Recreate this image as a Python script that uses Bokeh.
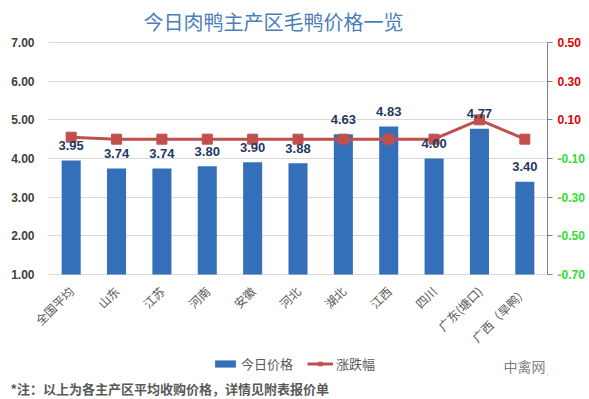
from bokeh.plotting import figure
from bokeh.layouts import column, row
from bokeh.models import (FactorRange, Range1d, LinearAxis, FixedTicker, Legend, LegendItem, Label,
                          ColumnDataSource, CustomJSTickFormatter, LabelSet, Title)
from bokeh.core.properties import value
from bokeh.embed import file_html
from bokeh.resources import INLINE
import math

categories = ["全国平均", "山东", "江苏", "河南", "安徽", "河北", "湖北", "江西", "四川", "广东(塘口)", "广西（旱鸭）"]
prices = [3.95, 3.74, 3.74, 3.80, 3.90, 3.88, 4.63, 4.83, 4.00, 4.77, 3.40]
changes = [0.01, 0.0, 0.0, 0.0, 0.0, 0.0, 0.0, 0.0, 0.0, 0.10, 0.0]
left_ticks = [1, 2, 3, 4, 5, 6, 7]
right_ticks = [-0.7, -0.5, -0.3, -0.1, 0.1, 0.3, 0.5]
title_text = "今日肉鸭主产区毛鸭价格一览"
note_text = "*注：以上为各主产区平均收购价格，详情见附表报价单"
brand_text = "中禽网"

CJK = "Noto Sans CJK SC"
NUM = "Liberation Sans"
BAR = "#3470ba"
LINE = "#c0504d"

# 7px of breathing room above/below the tick span so the end labels are not clipped
PAD_PX = 7
FRAME_PX = 233
lpad = (left_ticks[-1] - left_ticks[0]) / FRAME_PX * PAD_PX
rpad = (right_ticks[-1] - right_ticks[0]) / FRAME_PX * PAD_PX
chg_range = Range1d(right_ticks[0] - rpad, right_ticks[-1] + rpad)

src = ColumnDataSource(dict(cat=categories, price=prices, change=changes,
                            plabel=[f"{v:.2f}" for v in prices]))

TOP, BOTTOM, H = 35, 72, 354

p = figure(width=553, height=H, x_range=FactorRange(*categories),
           y_range=Range1d(left_ticks[0] - lpad, left_ticks[-1] + lpad),
           output_backend="svg", toolbar_location=None,
           min_border_left=48, min_border_right=6, min_border_top=TOP, min_border_bottom=BOTTOM)
p.extra_y_ranges = {"chg": chg_range}
p.outline_line_color = None
p.background_fill_color = "white"
p.border_fill_color = "white"

p.title = Title(text=title_text, align="left", offset=95, text_font=CJK, text_font_size="20px",
                text_font_style="normal", text_color="#4a7ebb", standoff=0)

bars = p.vbar(x="cat", top="price", width=0.42, bottom=left_ticks[0], source=src,
              fill_color=BAR, line_color=None)
line = p.line(x="cat", y="change", source=src, y_range_name="chg",
              line_color=LINE, line_width=3)
pts = p.scatter(x="cat", y="change", source=src, y_range_name="chg", marker="square",
                size=10, fill_color=LINE, line_color=LINE)

labels = LabelSet(x="cat", y="price", text="plabel", source=src, text_align="center",
                  text_baseline="middle", y_offset=15, text_font=value(NUM),
                  text_font_style="bold", text_font_size="13px", text_color="#1f3864")
p.add_layout(labels)

p.xgrid.grid_line_color = None
p.ygrid.grid_line_color = "#d9d9d9"
p.ygrid.ticker = FixedTicker(ticks=left_ticks)

la = p.yaxis[0]
la.ticker = FixedTicker(ticks=left_ticks)
la.formatter = CustomJSTickFormatter(code="return tick.toFixed(2);")
la.axis_line_color = None
la.major_tick_line_color = None
la.minor_tick_line_color = None
la.major_label_text_font = NUM
la.major_label_text_font_style = "bold"
la.major_label_text_font_size = "12px"
la.major_label_text_color = "#404040"
la.major_label_standoff = 8

xa = p.xaxis[0]
xa.axis_line_color = None
xa.major_tick_line_color = None
xa.major_label_orientation = math.pi / 4
xa.major_label_text_font = CJK
xa.major_label_text_font_size = "12px"
xa.major_label_text_color = "#595959"
xa.major_label_standoff = 1

# right axis: line and ticks only; its labels are drawn in the side figure (two colours)
ra = LinearAxis(y_range_name="chg", ticker=FixedTicker(ticks=right_ticks),
                formatter=CustomJSTickFormatter(code="return '';"),
                bounds=(right_ticks[0], right_ticks[-1]))
ra.axis_line_color = "#808080"
ra.major_tick_line_color = "#808080"
ra.major_tick_out = 5
ra.major_tick_in = 0
ra.minor_tick_line_color = None
ra.major_label_standoff = 0
p.add_layout(ra, "right")

r = figure(width=32, height=H, x_range=Range1d(0, 32), y_range=chg_range,
           output_backend="svg", toolbar_location=None,
           min_border_left=0, min_border_right=0, min_border_top=TOP, min_border_bottom=BOTTOM,
           x_axis_location=None, y_axis_location=None)
r.grid.grid_line_color = None
r.outline_line_color = None
for t in right_ticks:
    r.add_layout(Label(x=4, y=t, text=f"{t:.2f}", text_baseline="middle", text_align="left",
                       text_font=NUM, text_font_style="bold", text_font_size="12px",
                       text_color="#e00000" if t > 0 else "#33dd33"))

# footer: legend, footnote, brand
f = figure(width=585, height=43, x_range=Range1d(0, 1), y_range=Range1d(0, 1),
           output_backend="svg", toolbar_location=None,
           min_border_left=48, min_border_right=38, min_border_top=0, min_border_bottom=0,
           x_axis_location=None, y_axis_location=None)
f.grid.grid_line_color = None
f.outline_line_color = None
# legend proxies share the chart's data; they fall outside this strip's ranges
lb = f.vbar(x="price", top="change", width=0.1, source=src, fill_color=BAR, line_color=None)
ll = f.line(x="price", y="change", source=src, line_color=LINE, line_width=3)
lp = f.scatter(x="price", y="change", source=src, marker="square", size=8,
               fill_color=LINE, line_color=LINE)
legend = Legend(items=[LegendItem(label="今日价格", renderers=[lb]),
                       LegendItem(label="涨跌幅", renderers=[ll, lp])],
                orientation="horizontal", location=(164, 3),
                background_fill_alpha=0, border_line_color=None,
                label_text_font=CJK, label_text_font_size="13px", label_text_color="#595959",
                glyph_width=26, glyph_height=9, spacing=14, label_standoff=3, padding=0, margin=0)
f.add_layout(legend, "center")
f.add_layout(Title(text=note_text, align="left", offset=-38, text_font=CJK, text_font_size="13px",
                   text_font_style="bold", text_color="#595959", standoff=0), "below")
f.add_layout(Label(x=1, y=0, x_offset=-2, y_offset=1, text=brand_text, text_baseline="bottom",
                   text_align="right", text_font=CJK, text_font_size="14px", text_color="#7f7f7f"))

open("out.html", "w").write(file_html(column(row(p, r, spacing=0), f, spacing=0), INLINE))
